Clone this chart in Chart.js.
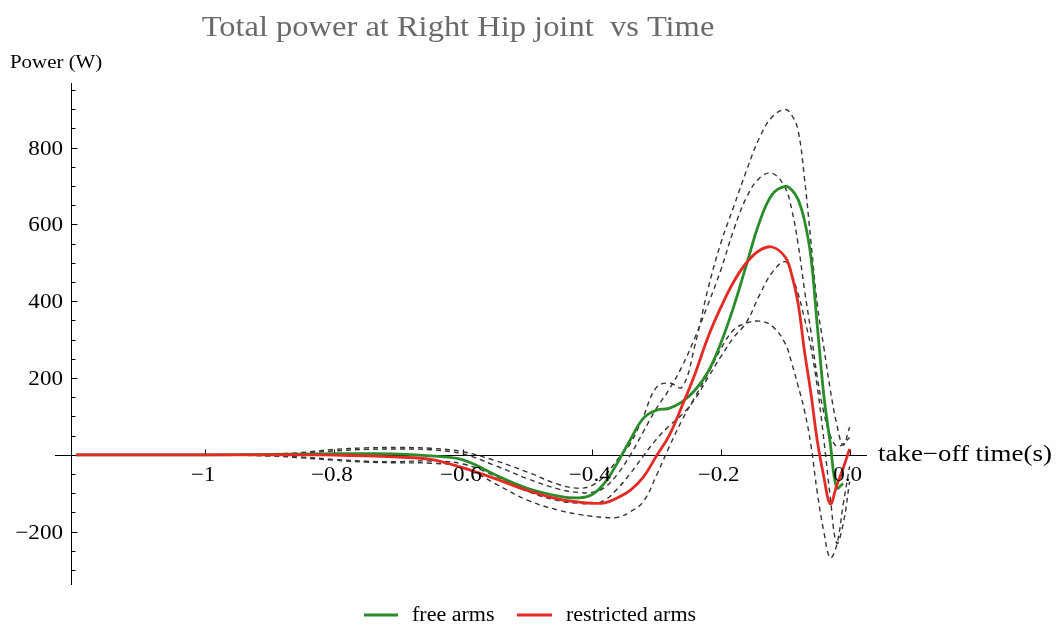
<!DOCTYPE html>
<html>
<head>
<meta charset="utf-8">
<script src="https://cdn.jsdelivr.net/npm/chart.js@4.4.1/dist/chart.umd.min.js"></script>
<style>
  html, body { margin: 0; padding: 0; background: #fff; }
  #chart { display: block; }
</style>
</head>
<body>
<canvas id="chart" width="1058" height="628"></canvas>
<script>
// take-off time (s)
const time = [-1.2, -1.1, -1.0, -0.9, -0.85, -0.8, -0.75, -0.7, -0.65, -0.6,
  -0.55, -0.5, -0.45, -0.42, -0.4, -0.38, -0.36, -0.34, -0.32, -0.3,
  -0.28, -0.26, -0.24, -0.22, -0.2, -0.18, -0.16, -0.14, -0.12, -0.1,
  -0.09, -0.08, -0.07, -0.06, -0.05, -0.04, -0.03, -0.02, -0.01, 0.0];

// mean power (W)
const freeArms = [0, 0, 0, 1, 2, 3, 3, 2, -3, -13,
  -52, -87, -108, -112, -104, -73, -20, 40, 95, 116,
  121, 138, 168, 215, 290, 385, 495, 605, 678, 699,
  690, 665, 610, 515, 334, 155, 30, -86, -75, null];
const restrictedArms = [0, 0, 0, 0, 0, -1, -3, -6, -12, -34,
  -62, -93, -116, -123, -126, -125, -112, -92, -58, -4,
  50, 127, 210, 305, 383, 450, 500, 532, 541, 515,
  470, 395, 270, 160, 35, -57, -128, -80, -35, 15];

// +/- one SD (dashed)
const freeUpper = [0, 0, 0, 2, 6, 14, 18, 19, 17, 8,
  -15, -45, -78, -87, -80, -55, -12, 30, 100, 175,
  187, 176, 285, 430, 550, 645, 740, 825, 880, 899,
  885, 845, 720, 555, 390, 280, 170, 80, 25, 72];
const freeLower = [0, 0, 0, -2, -6, -12, -17, -18, -16, -24,
  -55, -95, -120, -126, -127, -118, -88, -48, -3, 40,
  75, 105, 145, 200, 255, 305, 345, 415, 475, 503,
  470, 420, 355, 280, 175, 40, -110, -230, -180, -70];
const restrictedUpper = [0, 0, 0, 1, 4, 10, 14, 15, 13, 2,
  -28, -62, -90, -98, -98, -85, -50, 0, 60, 120,
  170, 230, 305, 390, 480, 585, 670, 720, 733, 695,
  640, 550, 430, 320, 200, 110, 50, 22, 28, 45];
const restrictedLower = [0, 0, 0, -3, -8, -14, -19, -21, -22, -32,
  -75, -118, -145, -155, -160, -163, -163, -148, -122, -55,
  20, 90, 150, 210, 275, 325, 343, 348, 335, 290,
  240, 180, 115, 25, -100, -200, -268, -235, -130, -30];

const xTicks = [-1, -0.8, -0.6, -0.4, -0.2, 0];
const xTickLabels = ['\u22121', '\u22120.8', '\u22120.6', '\u22120.4', '\u22120.2', '0.0'];
const yTicks = [-200, 200, 400, 600, 800];
const yTickLabels = ['\u2212200', '200', '400', '600', '800'];

const SERIF = '"Liberation Serif", "DejaVu Serif", serif';
const GREEN = '#2a8c2a';
const RED = '#e42a24';
const DASH = '#353535';

function toPoints(values) {
  return time.map((t, i) => ({x: t, y: values[i]}));
}

function solid(label, values, color) {
  return {label: label, data: toPoints(values), borderColor: color, backgroundColor: color,
    borderWidth: 2.8, tension: 0.4, pointRadius: 0};
}

function dashed(label, values) {
  return {label: label, data: toPoints(values), borderColor: DASH, backgroundColor: DASH,
    borderWidth: 1.4, borderDash: [5, 4], tension: 0.4, pointRadius: 0};
}

// text squeezed/stretched horizontally like the scanned figure
function drawText(ctx, text, x, y, size, align, stretch, color) {
  ctx.save();
  ctx.font = `${size}px ${SERIF}`;
  ctx.fillStyle = color || '#000';
  ctx.textBaseline = 'alphabetic';
  const w = ctx.measureText(text).width * stretch;
  let left = x;
  if (align === 'center') left = x - w / 2;
  if (align === 'right') left = x - w;
  ctx.translate(left, y);
  ctx.scale(stretch, 1);
  ctx.fillText(text, 0, 0);
  ctx.restore();
}

const axesPlugin = {
  id: 'mmaAxes',
  beforeDatasetsDraw(chart) {
    const {ctx, scales: {x, y}} = chart;
    const y0 = Math.round(y.getPixelForValue(0)) + 0.5;
    const xAxis = Math.round(x.getPixelForValue(x.min)) + 0.5;
    ctx.save();
    ctx.strokeStyle = '#000';
    ctx.lineWidth = 1;
    ctx.beginPath();
    ctx.moveTo(55, y0);
    ctx.lineTo(x.getPixelForValue(x.max), y0);
    ctx.moveTo(xAxis, y.getPixelForValue(y.max));
    ctx.lineTo(xAxis, y.getPixelForValue(y.min));
    // x ticks
    xTicks.forEach(t => {
      const px = Math.round(x.getPixelForValue(t)) + 0.5;
      ctx.moveTo(px, y0);
      ctx.lineTo(px, y0 - 6);
    });
    // y ticks, major and minor
    for (let v = -300; v <= 950; v += 50) {
      if (v === 0) continue;
      const py = Math.round(y.getPixelForValue(v)) + 0.5;
      ctx.moveTo(xAxis, py);
      ctx.lineTo(xAxis + (v % 200 === 0 ? 6 : 4), py);
    }
    ctx.stroke();
    ctx.restore();
  },
  afterDraw(chart) {
    const {ctx, scales: {x, y}} = chart;
    const y0 = y.getPixelForValue(0);
    xTicks.forEach((t, i) => {
      drawText(ctx, xTickLabels[i], x.getPixelForValue(t) - 2, y0 + 26, 21, 'center', 1.1);
    });
    yTicks.forEach((v, i) => {
      drawText(ctx, yTickLabels[i], 63, y.getPixelForValue(v) + 7, 21, 'right', 1.1);
    });
    drawText(ctx, 'Total power at Right Hip joint  vs Time', 458, 36, 29, 'center', 1.12, '#6a6a6a');
    drawText(ctx, 'Power (W)', 10, 68, 19, 'left', 1.1);
    drawText(ctx, 'take\u2212off time(s)', 878, 461, 23, 'left', 1.17);

    // legend
    ctx.save();
    ctx.lineWidth = 3;
    ctx.strokeStyle = GREEN;
    ctx.beginPath(); ctx.moveTo(364, 615); ctx.lineTo(398, 615); ctx.stroke();
    ctx.strokeStyle = RED;
    ctx.beginPath(); ctx.moveTo(517, 615); ctx.lineTo(552, 615); ctx.stroke();
    ctx.restore();
    drawText(ctx, 'free arms', 412, 621, 20, 'left', 1.1);
    drawText(ctx, 'restricted arms', 566, 621, 20, 'left', 1.1);
  }
};

new Chart(document.getElementById('chart'), {
  type: 'line',
  data: {
    datasets: [
      solid('restricted arms', restrictedArms, RED),
      solid('free arms', freeArms, GREEN),
      dashed('free arms +SD', freeUpper),
      dashed('free arms -SD', freeLower),
      dashed('restricted arms +SD', restrictedUpper),
      dashed('restricted arms -SD', restrictedLower)
    ]
  },
  options: {
    responsive: false,
    animation: false,
    devicePixelRatio: 1,
    layout: {padding: {left: 71, right: 191, top: 83, bottom: 43}},
    scales: {
      x: {type: 'linear', min: -1.208, max: 0.027, display: false},
      y: {type: 'linear', min: -339, max: 968, display: false}
    },
    plugins: {
      legend: {display: false},
      title: {display: false},
      tooltip: {enabled: false}
    }
  },
  plugins: [axesPlugin]
});
</script>
</body>
</html>
